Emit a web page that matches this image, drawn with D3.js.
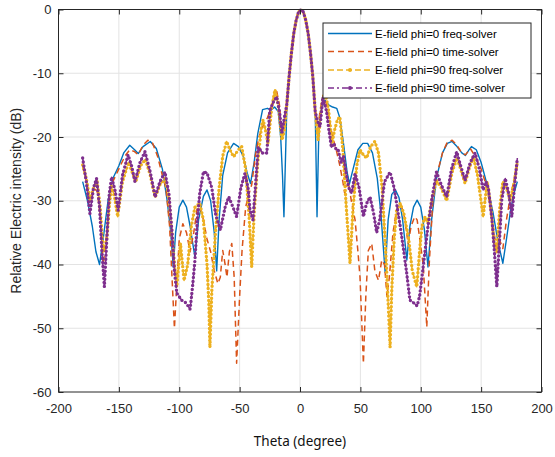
<!DOCTYPE html>
<html>
<head>
<meta charset="utf-8">
<script src="https://cdn.jsdelivr.net/npm/d3@7"></script>
<style>
  body { margin: 0; background: #fff; }
  svg { display: block; }
</style>
</head>
<body>
<svg id="svg"></svg>
<script>
// -------------------------------
// DATA
// -------------------------------
const xTicks = [-200, -150, -100, -50, 0, 50, 100, 150, 200];
const yTicks = [-60, -50, -40, -30, -20, -10, 0];

const seriesNames = [
  'E-field phi=0 freq-solver',
  'E-field phi=0 time-solver',
  'E-field phi=90 freq-solver',
  'E-field phi=90 time-solver'
];

// phi=0 freq-solver
const blueTheta = [-180, -176, -172, -169, -166, -163, -159, -155, -150, -146, -141, -137, -134, -130, -124, -119, -114, -110, -107, -105, -103, -100, -97, -94, -91, -87, -84, -80, -77, -74, -71, -69, -67, -64, -60, -55, -51, -47, -44, -41, -38, -35, -31, -27, -24, -21, -18, -16, -14.5, -13.3, -11, -9, -7.2, -5.2, -3.2, -1.2, 0.8, 2.8, 4.8, 6.8, 8.8, 10.6, 12.6, 14.1, 15.5, 17, 20.5, 24, 27, 30.4, 33, 36, 39, 41, 44, 48, 52, 56, 60, 64, 67, 70.5, 73, 76, 79, 82, 85, 88.5, 91, 94, 97, 100, 103, 106, 109, 113, 118, 122, 126, 130, 134, 137, 140, 142, 146, 150, 155, 160, 164, 168, 171, 174, 177, 180];
const blueDb = [-27, -30, -34, -38, -40, -36, -30, -26.5, -24.5, -22.5, -21.3, -22, -22.6, -21.5, -20.7, -21.8, -25, -30, -35, -40.4, -35, -31, -29.9, -31, -34, -38.9, -33, -29.3, -28.3, -30, -35, -41, -33, -26, -22.5, -21, -21.5, -23, -25.5, -27.3, -24, -19.5, -15.7, -15.5, -15.8, -15.3, -16, -20, -26, -32.5, -16, -10.5, -7, -3.8, -1.7, -0.4, 0, -0.4, -1.7, -3.8, -7, -10.5, -16, -32.5, -20, -16, -14.2, -15, -15.3, -15.5, -17, -21, -25.5, -27.3, -25, -22, -21, -21, -22.5, -26.5, -32, -41.2, -33, -29, -28.3, -29.5, -33, -39.3, -34, -31, -29.9, -31, -34.5, -40.4, -33, -26.5, -22.5, -21, -20.7, -21.5, -22.5, -22.9, -22, -21.5, -22, -24, -27.5, -32, -36.5, -39.8, -36, -32, -29, -27];

// phi=0 time-solver
const redTheta = [-180, -177, -174, -171, -168, -165, -163, -161, -158, -155, -150, -145, -141, -137, -134, -130, -126, -122, -118, -114, -111, -108, -106, -104, -102, -100, -97, -94, -91, -88, -85, -82, -80, -77, -74, -71, -68, -66, -64, -62, -60.5, -58.5, -56.5, -54.5, -52.5, -50, -48, -45, -43, -40, -37, -34, -30, -27, -24, -21.5, -19.3, -17, -15, -13, -11, -9, -7.2, -5.2, -3.2, -1.2, 0.8, 2.8, 4.8, 6.8, 8.8, 10.6, 12.6, 14.5, 16.5, 19, 21.5, 24, 27, 30, 33, 35.5, 37, 40, 42.5, 45.6, 48, 49.7, 52.5, 54.5, 56.6, 59.4, 62, 65, 67.7, 70, 72, 74, 77, 80, 83, 86, 89.6, 92, 95, 97, 99, 102, 105, 107, 110, 113, 118, 122, 126, 130, 134, 137, 141, 145, 150, 155, 160, 163, 165, 168, 171, 174, 177, 180];
const redDb = [-24.5, -27, -30, -28, -28.5, -33, -40, -37, -30, -27, -25, -23, -22, -22.3, -22.8, -21.3, -20.5, -21, -23, -26, -28, -34, -42, -50, -43, -36, -33.6, -35, -38, -35, -31, -31.5, -33, -36, -38, -41, -43, -42, -37.8, -40, -42, -38, -36.7, -42, -55.5, -45, -37.8, -31, -29.4, -27.5, -23, -20, -18, -17, -15.5, -13.5, -12.8, -15, -19.4, -18, -15, -10.5, -7, -3.8, -1.7, -0.4, 0, -0.4, -1.7, -3.8, -7, -10.5, -16, -19.5, -16, -13.5, -14.5, -17, -20, -22, -24.5, -27, -28.8, -27, -30, -33, -38, -42, -55.5, -45, -37.8, -36.7, -41, -42.5, -39.3, -40, -45, -42, -35, -31.5, -30.4, -32, -36.7, -34, -32.5, -33, -35.7, -40, -49.8, -40, -30, -26.2, -22.5, -20.8, -20.5, -21.3, -22.5, -22.8, -21.8, -23, -25, -28, -34, -38, -36, -37.5, -33, -29.5, -27, -24];

// phi=90 freq-solver
const yellowTheta = [-180, -177, -174, -171, -168, -165.5, -163, -160, -158, -156, -153.5, -151, -147, -142, -139, -136, -132, -128, -124, -120, -116, -112, -109, -106, -104, -102, -99, -96, -93, -90, -87, -83, -80, -77, -75.5, -74.6, -73, -70, -67, -64, -60.8, -58, -55, -51, -48.3, -45, -42, -40, -38, -35, -32, -30.6, -28.5, -26.5, -23.5, -20.7, -18, -15, -13, -11, -9, -7.2, -5.2, -3.2, -1.2, 0.8, 2.8, 4.8, 6.8, 8.8, 10.6, 12.6, 15, 18, 20.5, 23.5, 26.5, 28.5, 31, 33, 35.5, 38, 41.4, 44, 47, 49.7, 52.5, 55.2, 58.5, 62, 65, 68, 71, 73, 74.6, 76, 78, 80, 83, 86, 90, 93, 96.7, 99, 101, 103.6, 106, 109, 113, 117, 121.5, 126, 130, 133, 136.7, 140, 143.5, 147, 151.7, 155, 158, 160.5, 163, 165.5, 168, 171, 174, 177, 180];
const yellowDb = [-24.4, -26.5, -29.9, -28, -27, -31, -38, -36, -31, -27.5, -29.5, -32.5, -27, -24, -25.5, -27, -24.5, -23.5, -26, -29.5, -27.5, -26.5, -29, -35, -40, -43.5, -36.7, -42.5, -40, -34, -31, -30.4, -33, -40, -46, -53, -44, -35, -28, -23, -20.7, -22, -23.1, -22, -21.5, -25, -33, -40.4, -32, -24, -18.5, -17.3, -19, -21, -15.5, -12.6, -15, -20.5, -19, -15, -10.5, -7, -3.8, -1.7, -0.4, 0, -0.4, -1.7, -3.8, -7, -10.5, -16, -20.5, -15, -12.8, -15.5, -21, -19, -17.3, -16.8, -22, -30, -39.8, -31, -24.5, -22, -22.8, -23.3, -21.5, -20.7, -22.5, -28, -38, -46, -53, -44, -36, -31.5, -30.4, -32, -36, -41, -43.5, -38, -34, -32.5, -33.5, -30, -26.8, -28, -30, -25.5, -23.3, -25, -27.3, -25, -23.1, -26, -32.5, -27, -31, -36, -38, -31, -27, -28, -30, -27.5, -24];

// phi=90 time-solver
const purpleTheta = [-180, -177, -174, -171, -168.5, -166, -164, -162, -160, -158, -156, -153, -150.6, -147, -142.4, -139.5, -136.7, -132.5, -128.4, -124, -120, -116, -111.8, -108.5, -106, -104, -102, -98, -94.5, -91, -89, -87, -85, -83, -80, -77, -73, -70, -66, -62, -59, -55.5, -52.5, -49, -45.6, -43, -41.4, -39, -37, -34.6, -31, -27.5, -25, -22, -19.3, -17, -15, -13, -11, -9, -7.2, -5.2, -3.2, -1.2, 0.8, 2.8, 4.8, 6.8, 8.8, 10.6, 12.6, 14.5, 16.6, 19, 22, 24, 26, 28, 30, 31.6, 34, 36, 38.7, 40.5, 42.8, 45.6, 49, 52.5, 55, 58, 61, 63.5, 66, 70, 74.6, 78, 80.5, 83, 86, 88.4, 91, 94, 97, 99, 101, 103.6, 106, 109, 113, 117, 121.5, 125.5, 129.8, 133, 136.7, 141, 145, 148.5, 151.7, 154, 156, 159, 161, 163, 165, 167, 170, 173, 175.4, 178, 180];
const purpleDb = [-23.3, -27, -32, -28, -26.5, -31, -38, -43.5, -36, -29, -26.3, -28.5, -31.5, -26, -22.8, -24.5, -27, -24, -22.3, -25.5, -29.4, -27, -25.5, -29, -35, -41, -44.5, -45.6, -46, -47, -43.5, -39.3, -33, -28.8, -25.5, -25.6, -28, -32, -34.6, -31, -29.4, -31, -32.5, -28, -25.7, -28, -31.5, -33, -28, -21.6, -22.5, -22.5, -15.8, -14.5, -13.7, -16, -19.4, -17, -15, -10.5, -7, -3.8, -1.7, -0.4, 0, -0.4, -1.7, -3.8, -7, -10.5, -16, -17.5, -18.4, -13.7, -16, -19, -21.6, -21, -22, -22, -24, -23, -26.2, -28, -28.8, -25.7, -28, -32.5, -30.5, -29.4, -32, -35, -33, -27, -25.5, -28, -31, -34, -38, -41.4, -45.6, -46, -46.5, -45, -42, -37.8, -34, -30, -25.5, -27.5, -29.4, -25, -22.3, -24.5, -26.8, -24, -22.5, -25, -28.3, -27, -28, -33, -38, -43.5, -37, -30, -26.5, -29, -32.5, -27, -23.3];

// -------------------------------
// RENDER
// -------------------------------
const width = 555;
const height = 457;

const svg = d3.select('#svg')
  .attr('width', width)
  .attr('height', height)
  .style('font-family', '"Liberation Sans", Arial, sans-serif');

const x = d3.scaleLinear().domain([-200, 200]).range([58.5, 541.5]);
const y = d3.scaleLinear().domain([-60, 0]).range([392, 9.5]);

const axisColor = '#262626';
const gridColor = '#e3e3e3';
const plainNum = d => String(d); // hyphen minus, like the original

// grid
svg.append('g')
  .selectAll('line.gx')
  .data(xTicks.slice(1, -1))
  .enter().append('line')
  .attr('x1', d => x(d)).attr('x2', d => x(d))
  .attr('y1', y(0)).attr('y2', y(-60))
  .attr('stroke', gridColor).attr('stroke-width', 1);

svg.append('g')
  .selectAll('line.gy')
  .data(yTicks.slice(1, -1))
  .enter().append('line')
  .attr('x1', x(-200)).attr('x2', x(200))
  .attr('y1', d => y(d)).attr('y2', d => y(d))
  .attr('stroke', gridColor).attr('stroke-width', 1);

// series
const line = d3.line()
  .x(d => x(d[0]))
  .y(d => y(d[1]));

const zip = (a, b) => a.map((v, i) => [v, b[i]]);

const series = [
  { pts: zip(blueTheta, blueDb), color: '#0072BD', dash: null, width: 1.4, beads: false },
  { pts: zip(redTheta, redDb), color: '#D95319', dash: '6,4', width: 1.5, beads: false },
  { pts: zip(yellowTheta, yellowDb), color: '#EDB120', dash: '6,3', width: 1.5, beads: true },
  { pts: zip(purpleTheta, purpleDb), color: '#7E2F8E', dash: '6,3,2,3', width: 1.5, beads: true }
];

const plot = svg.append('g');
series.forEach(s => {
  plot.append('path')
    .attr('d', line(s.pts))
    .attr('fill', 'none')
    .attr('stroke', s.color)
    .attr('stroke-width', s.width)
    .attr('stroke-dasharray', s.dash)
    .attr('stroke-linejoin', 'round');
  if (s.beads) {
    // dense markers along the curve
    plot.append('path')
      .attr('d', line(s.pts))
      .attr('fill', 'none')
      .attr('stroke', s.color)
      .attr('stroke-width', 3.4)
      .attr('stroke-linecap', 'round')
      .attr('stroke-dasharray', '0,4');
  }
});

// axes (ticks inward, on all four sides)
const styleAxis = g => {
  g.select('.domain').remove();
  g.selectAll('.tick line').attr('stroke', axisColor);
  g.selectAll('.tick text')
    .attr('fill', axisColor)
    .style('font-size', '13px')
    .style('font-family', '"Liberation Sans", Arial, sans-serif');
};

svg.append('g')
  .attr('transform', `translate(0,${y(-60)})`)
  .call(d3.axisBottom(x).tickValues(xTicks).tickSize(-5).tickPadding(12).tickFormat(plainNum))
  .call(styleAxis);

svg.append('g')
  .attr('transform', `translate(0,${y(0)})`)
  .call(d3.axisTop(x).tickValues(xTicks).tickSize(-5).tickFormat(''))
  .call(styleAxis);

svg.append('g')
  .attr('transform', `translate(${x(-200)},0)`)
  .call(d3.axisLeft(y).tickValues(yTicks).tickSize(-5).tickPadding(7).tickFormat(plainNum))
  .call(styleAxis);

svg.append('g')
  .attr('transform', `translate(${x(200)},0)`)
  .call(d3.axisRight(y).tickValues(yTicks).tickSize(-5).tickFormat(''))
  .call(styleAxis);

svg.append('rect')
  .attr('x', x(-200)).attr('y', y(0))
  .attr('width', x(200) - x(-200))
  .attr('height', y(-60) - y(0))
  .attr('fill', 'none')
  .attr('stroke', axisColor)
  .attr('stroke-width', 1);

// axis labels
svg.append('text')
  .attr('x', 300)
  .attr('y', 446)
  .attr('text-anchor', 'middle')
  .style('font-family', '"Noto Sans", sans-serif')
  .style('font-size', '13.5px')
  .attr('fill', '#111')
  .text('Theta (degree)');

svg.append('text')
  .attr('transform', `translate(21,${y(-30)}) rotate(-90)`)
  .attr('text-anchor', 'middle')
  .style('font-size', '14px')
  .attr('fill', axisColor)
  .text('Relative Electric intensity (dB)');

// legend
const legend = svg.append('g');
legend.append('rect')
  .attr('x', 323).attr('y', 23)
  .attr('width', 208).attr('height', 75)
  .attr('fill', '#fff')
  .attr('stroke', axisColor)
  .attr('stroke-width', 1);

const rowY = [33.5, 51.5, 70, 88];
series.forEach((s, i) => {
  const ly = rowY[i];
  legend.append('line')
    .attr('x1', 328).attr('x2', 372)
    .attr('y1', ly).attr('y2', ly)
    .attr('stroke', s.color)
    .attr('stroke-width', 1.5)
    .attr('stroke-dasharray', s.dash);
  if (s.beads) {
    legend.append('circle')
      .attr('cx', 350).attr('cy', ly).attr('r', 2)
      .attr('fill', s.color);
  }
  legend.append('text')
    .attr('x', 375).attr('y', ly + 4)
    .style('font-size', '11.5px')
    .attr('fill', '#000')
    .text(seriesNames[i]);
});
</script>
</body>
</html>
